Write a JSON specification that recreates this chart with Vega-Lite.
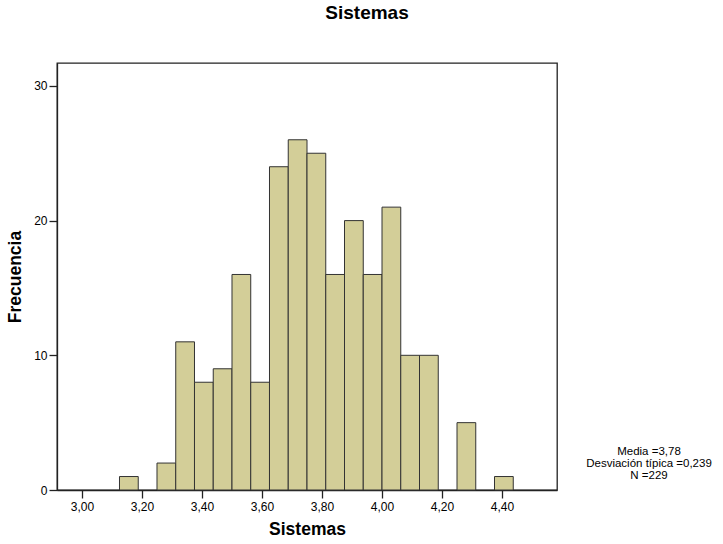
{
  "$schema": "https://vega.github.io/schema/vega-lite/v6.json",
  "width": 500,
  "height": 427,
  "padding": {"left": 6, "top": 4, "right": 5, "bottom": 5},
  "background": "white",
  "title": {"text": "Sistemas", "fontSize": 19, "font": "Liberation Sans", "fontWeight": "bold", "color": "black", "dx": 60, "offset": 40, "anchor": "middle"},
  "config": {
    "view": {"fill": "#f0f0f0", "stroke": "#222222", "strokeWidth": 1.3},
    "axis": {
      "labelFont": "Liberation Sans", "labelFontSize": 12, "labelColor": "black",
      "titleFont": "Liberation Sans", "titleFontSize": 17.5, "titleFontWeight": "bold", "titleColor": "black",
      "domainColor": "#222222", "tickColor": "#222222", "tickSize": 8, "tickWidth": 1.3, "domainWidth": 1.3, "grid": false
    }
  },
  "layer": [
    {
      "data": {"values": [
        {"bin_start": 3.125, "bin_end": 3.1875, "count": 1},
        {"bin_start": 3.25, "bin_end": 3.3125, "count": 2},
        {"bin_start": 3.3125, "bin_end": 3.375, "count": 11},
        {"bin_start": 3.375, "bin_end": 3.4375, "count": 8},
        {"bin_start": 3.4375, "bin_end": 3.5, "count": 9},
        {"bin_start": 3.5, "bin_end": 3.5625, "count": 16},
        {"bin_start": 3.5625, "bin_end": 3.625, "count": 8},
        {"bin_start": 3.625, "bin_end": 3.6875, "count": 24},
        {"bin_start": 3.6875, "bin_end": 3.75, "count": 26},
        {"bin_start": 3.75, "bin_end": 3.8125, "count": 25},
        {"bin_start": 3.8125, "bin_end": 3.875, "count": 16},
        {"bin_start": 3.875, "bin_end": 3.9375, "count": 20},
        {"bin_start": 3.9375, "bin_end": 4.0, "count": 16},
        {"bin_start": 4.0, "bin_end": 4.0625, "count": 21},
        {"bin_start": 4.0625, "bin_end": 4.125, "count": 10},
        {"bin_start": 4.125, "bin_end": 4.1875, "count": 10},
        {"bin_start": 4.25, "bin_end": 4.3125, "count": 5},
        {"bin_start": 4.375, "bin_end": 4.4375, "count": 1}
      ]},
      "mark": {"type": "rect", "fill": "#d3ce98", "stroke": "#333333", "strokeWidth": 1},
      "encoding": {
        "x": {"field": "bin_start", "type": "quantitative",
              "scale": {"domain": [2.9167, 4.5833], "nice": false, "zero": false},
              "axis": {"title": "Sistemas", "values": [3.0, 3.2, 3.4, 3.6, 3.8, 4.0, 4.2, 4.4],
                       "labelExpr": "replace(format(datum.value, '.2f'), '.', ',')", "titlePadding": 8, "labelPadding": 3}},
        "x2": {"field": "bin_end"},
        "y": {"field": "count", "type": "quantitative",
              "scale": {"domain": [0, 31.7], "nice": false},
              "axis": {"title": "Frecuencia", "values": [0, 10, 20, 30], "titlePadding": 9, "labelPadding": 2}},
        "y2": {"datum": 0}
      }
    },
    {
      "data": {"values": [{"stats": ["Media =3,78", "Desviación típica =0,239", "N =229"]}]},
      "mark": {"type": "text", "font": "Liberation Sans", "fontSize": 11.5, "color": "black", "align": "center", "baseline": "alphabetic", "lineHeight": 12, "x": {"expr": "width + 92"}, "y": 392},
      "encoding": {"text": {"field": "stats"}}
    }
  ]
}
